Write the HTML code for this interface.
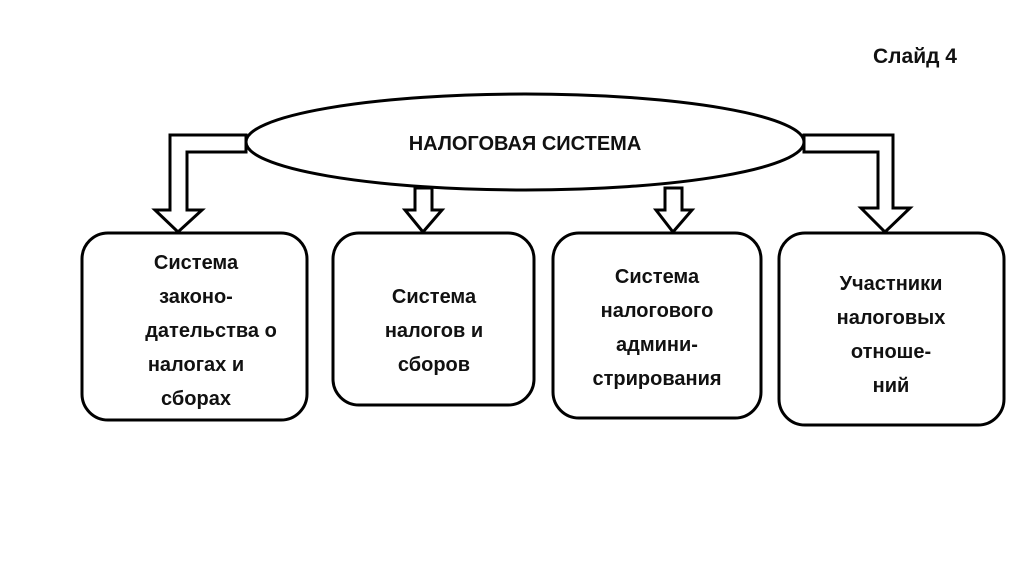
<!DOCTYPE html><html><head><style>body{margin:0;background:#fff}</style></head><body>
<svg width="1024" height="574" xmlns="http://www.w3.org/2000/svg" style="display:block">
<g fill="#fff" stroke="#000" stroke-width="3">
<path d="M246,135 H170 V210 H155 L178,232 L202,210 H187 V152 H246 Z"/>
<path d="M804,135 H893 V208 H910 L885,232 L861,208 H878 V152 H804 Z"/>
<path d="M415,188 V210 H405 L423,232 L442,210 H432 V188 Z"/>
<path d="M665,188 V210 H656 L673,232 L692,210 H682 V188 Z"/>
<ellipse cx="525" cy="142" rx="279" ry="48"/>
<rect x="82" y="233" width="225" height="187" rx="26"/>
<rect x="333" y="233" width="201" height="172" rx="26"/>
<rect x="553" y="233" width="208" height="185" rx="26"/>
<rect x="779" y="233" width="225" height="192" rx="26"/>
</g>
<g font-family="Liberation Sans, sans-serif" font-weight="bold" font-size="20" text-anchor="middle" fill="#111">
<text x="915" y="63" font-size="21">Слайд  4</text>
<text x="525" y="150" font-size="20">НАЛОГОВАЯ СИСТЕМА</text>
<text x="196" y="269">Система</text><text x="196" y="303">законо-</text><text x="211" y="337">дательства о</text><text x="196" y="371">налогах и</text><text x="196" y="405">сборах</text>
<text x="434" y="303">Система</text><text x="434" y="337">налогов и</text><text x="434" y="371">сборов</text>
<text x="657" y="283">Система</text><text x="657" y="317">налогового</text><text x="657" y="351">админи-</text><text x="657" y="385">стрирования</text>
<text x="891" y="290">Участники</text><text x="891" y="324">налоговых</text><text x="891" y="358">отноше-</text><text x="891" y="392">ний</text>
</g>
</svg>
</body></html>
